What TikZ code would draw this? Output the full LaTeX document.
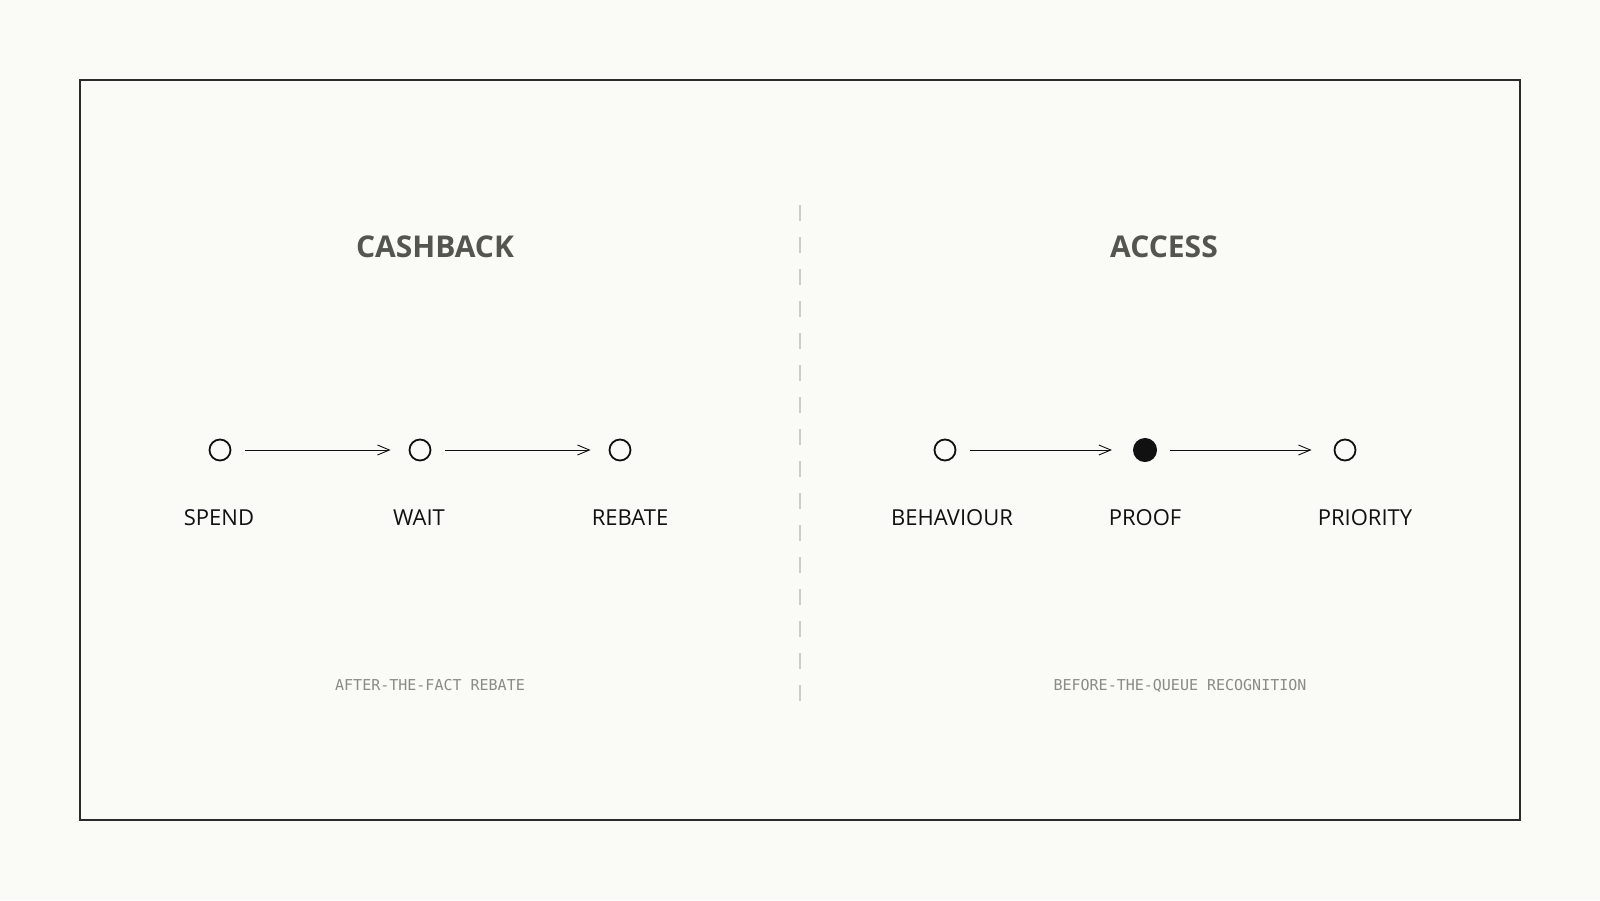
\documentclass[tikz,border=0pt]{standalone}
\usepackage{fontspec}
\setmainfont{Open Sans}
\newfontfamily\monof{DejaVu Sans Mono}
\usetikzlibrary{arrows.meta}
\definecolor{bg}{HTML}{FAFAF7}
\definecolor{framec}{HTML}{2A2A2A}
\definecolor{titlec}{HTML}{55554F}
\definecolor{subc}{HTML}{8A8A86}
\definecolor{dashc}{HTML}{CCCCC8}
\definecolor{ink}{HTML}{111111}
\tikzset{
  stepdot/.style={circle, draw=ink, line width=1.8pt, minimum size=21pt, inner sep=0pt, fill=bg},
  stepfull/.style={circle, fill=ink, draw=ink, line width=1pt, minimum size=23pt, inner sep=0pt},
  flow/.style={draw=ink, line width=0.9pt, -{Straight Barb[length=12pt,width=10pt,line width=0.9pt]}, shorten <=14pt, shorten >=18pt},
  steplabel/.style={anchor=base, font=\fontsize{22pt}{26pt}\selectfont, text=ink, inner sep=0pt},
  paneltitle/.style={anchor=base, font=\fontsize{30pt}{34pt}\selectfont\bfseries, text=titlec, inner sep=0pt},
  panelsub/.style={anchor=base, font=\fontsize{15pt}{18pt}\selectfont\monof, text=subc, inner sep=0pt},
}
\begin{document}
\begin{tikzpicture}[x=1pt,y=-1pt]
\useasboundingbox[fill=bg] (0,0) rectangle (1600,900);
\draw[framec, line width=2pt] (80,80) rectangle (1520,820);
\coordinate (dtop) at (800,205);
\coordinate (dbot) at (800,701);
\draw[dashc, line width=2pt, dash pattern=on 16pt off 16pt] (dtop) -- (dbot);

\node[paneltitle] (t1) at (435,257.5) {CASHBACK};
\node[paneltitle] (t2) at (1164,257.5) {ACCESS};

\node[stepdot] (a1) at (220,450) {};
\node[stepdot] (a2) at (420,450) {};
\node[stepdot] (a3) at (620,450) {};
\draw[flow] (a1) -- (a2);
\draw[flow] (a2) -- (a3);

\node[stepdot] (b1) at (945,450) {};
\node[stepfull] (b2) at (1145,450) {};
\node[stepdot] (b3) at (1345,450) {};
\draw[flow, shorten >=21pt] (b1) -- (b2);
\draw[flow, shorten <=13pt, shorten >=22pt] (b2) -- (b3);

\node[steplabel] (l1) at (219,525) {SPEND};
\node[steplabel] (l2) at (419,525) {WAIT};
\node[steplabel] (l3) at (630,525) {REBATE};
\node[steplabel] (l4) at (952,525) {BEHAVIOUR};
\node[steplabel] (l5) at (1145,525) {PROOF};
\node[steplabel] (l6) at (1365,525) {PRIORITY};

\node[panelsub] (s1) at (430,690) {AFTER-THE-FACT REBATE};
\node[panelsub] (s2) at (1180,690) {BEFORE-THE-QUEUE RECOGNITION};
\end{tikzpicture}
\end{document}
